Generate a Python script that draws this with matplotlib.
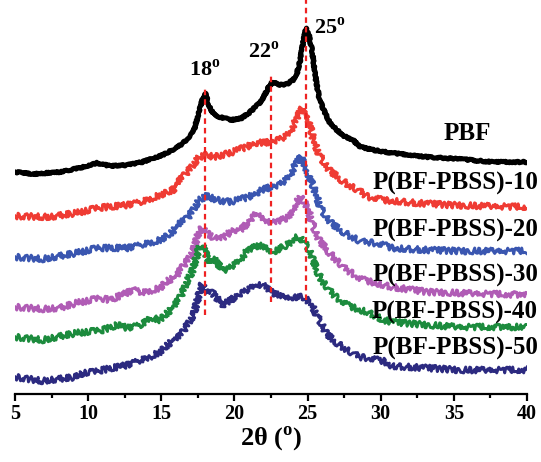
import matplotlib
matplotlib.use('Agg')
import matplotlib.pyplot as plt

plt.rcParams['font.family'] = ['Liberation Serif', 'DejaVu Serif']
plt.rcParams['mathtext.fontset'] = 'custom'
plt.rcParams['mathtext.rm'] = 'Liberation Serif'
plt.rcParams['mathtext.bf'] = 'Liberation Serif:bold'

# XRD patterns (stacked, intensity in a.u. including vertical offset)
pbf_x = [5.0, 6.2, 8.1, 9.4, 10.6, 11.5, 12.7, 13.7, 15.1, 16.0, 16.5, 17.0, 17.3, 17.6,
         17.85, 18.0, 18.3, 18.6, 19.0, 19.8, 20.5, 21.0, 21.5, 21.9, 22.3, 22.6, 23.1,
         23.6, 24.0, 24.3, 24.5, 24.7, 24.9, 25.1, 25.3, 25.6, 25.8, 26.1, 26.5, 27.0,
         27.5, 28.1, 28.6, 29.5, 30.8, 33.2, 35.4, 37.7, 40.0]
pbf_y = [222, 220, 222, 226, 231, 228, 229, 232, 239, 246, 251, 259, 267, 284,
         296, 301, 287, 280, 277, 274, 276, 281, 288, 294, 306, 312, 309,
         310, 314, 322, 334, 352, 366, 358, 344, 311, 296, 284, 272, 264,
         258, 254, 247, 244, 241, 237, 235, 232, 232]

p10_x = [5.0, 7.4, 9.2, 10.6, 12.7, 13.7, 14.9, 15.8, 16.1, 16.6, 17.0, 17.6, 18.1, 18.6,
         19.7, 20.6, 21.5, 22.6, 23.3, 23.8, 24.3, 24.6, 25.0, 25.4, 25.7, 26.0, 26.3,
         26.8, 27.2, 27.8, 28.6, 29.1, 30.2, 32.5, 34.7, 37.0, 40.0]
p10_y = [178, 177, 181, 186, 189, 192, 199, 204, 211, 219, 226, 237, 239, 237,
         241, 246, 251, 252, 256, 261, 277, 286, 279, 254, 243, 234, 227,
         220, 215, 209, 203, 197, 194, 191, 189, 188, 187]

p20_x = [5.0, 6.9, 8.5, 9.2, 10.6, 12.7, 13.7, 14.9, 15.6, 16.3, 16.8, 17.2, 17.6, 18.1,
         18.8, 19.7, 20.5, 21.3, 22.0, 23.1, 23.8, 24.3, 24.6, 25.0, 25.4, 25.9, 26.3,
         26.8, 27.2, 27.9, 28.6, 29.1, 30.2, 30.8, 33.2, 35.4, 40.0]
p20_y = [137, 135, 139, 141, 146, 146, 149, 154, 160, 171, 176, 185, 194, 198,
         194, 192, 195, 199, 205, 209, 218, 234, 237, 222, 207, 186, 176,
         169, 164, 158, 153, 152, 149, 146, 144, 143, 143]

p30_x = [5.0, 6.9, 8.1, 9.2, 10.8, 11.5, 13.1, 13.7, 14.9, 15.4, 16.1, 16.3, 16.8, 17.2,
         17.6, 17.9, 18.1, 18.5, 19.0, 19.9, 20.4, 21.0, 21.5, 21.8, 22.6, 23.6, 24.0,
         24.3, 24.5, 25.0, 25.3, 25.6, 26.0, 26.5, 27.1, 27.7, 28.6, 30.2, 30.8, 33.2,
         35.4, 40.0]
p30_y = [87, 85, 86, 91, 96, 94, 104, 101, 106, 113, 118, 124, 134, 144,
         164, 166, 161, 157, 154, 164, 164, 172, 181, 176, 171, 176, 185,
         194, 197, 187, 172, 159, 150, 141, 132, 124, 115, 109, 107, 102,
         101, 99]

p40_x = [5.0, 6.9, 9.2, 11.0, 12.0, 12.7, 13.7, 14.2, 14.9, 15.9, 16.3, 16.8, 17.1, 17.6,
         17.8, 18.3, 18.5, 19.2, 19.5, 20.4, 20.9, 21.7, 22.2, 22.6, 23.6, 24.3, 24.5,
         25.0, 25.4, 25.6, 26.0, 26.5, 27.0, 27.7, 28.6, 29.1, 30.2, 30.8, 33.2, 35.4,
         40.0]
p40_y = [57, 54, 61, 64, 69, 66, 69, 77, 74, 88, 97, 114, 122, 147,
         149, 131, 137, 124, 124, 134, 144, 149, 147, 142, 149, 157, 157,
         147, 134, 124, 113, 104, 96, 89, 84, 82, 74, 72, 69, 67,
         67]

p50_x = [5.0, 6.9, 7.4, 9.2, 9.6, 10.3, 12.0, 12.7, 13.7, 14.2, 14.9, 15.8, 16.3, 16.8,
         17.2, 17.6, 17.8, 18.1, 18.5, 19.2, 20.4, 21.6, 22.2, 22.6, 23.8, 24.7, 25.2,
         25.5, 25.8, 26.2, 26.7, 27.4, 27.7, 28.1, 28.6, 30.2, 30.8, 33.2, 35.4, 40.0]
p50_y = [17, 13, 14, 17, 21, 22, 27, 29, 34, 37, 42, 54, 58, 70,
         79, 101, 110, 101, 101, 89, 100, 110, 107, 101, 97, 97, 91,
         83, 74, 63, 54, 47, 44, 41, 37, 33, 28, 26, 24, 24]

curves = [
    (pbf_x, pbf_y, '#000000', 'PBF'),
    (p10_x, p10_y, '#ef3b33', 'P(BF-PBSS)-10'),
    (p20_x, p20_y, '#3a56b0', 'P(BF-PBSS)-20'),
    (p30_x, p30_y, '#b05cb5', 'P(BF-PBSS)-30'),
    (p40_x, p40_y, '#1c8b3d', 'P(BF-PBSS)-40'),
    (p50_x, p50_y, '#2c2a80', 'P(BF-PBSS)-50'),
]

# label anchors (x, y) for each pattern
label_x = [35.9, 40.75, 40.75, 40.75, 40.75, 40.75]
label_y = [261, 211, 164, 119, 82, 46]
label_ha = ['center', 'right', 'right', 'right', 'right', 'right']

# characteristic peaks: position, dashed-line span, label position
peak_pos = [18.0, 22.5, 24.9]
peak_low = [79, 92, 94]
peak_high = [306, 321, 394]
peak_text = ['18', '22', '25']
peak_text_x = [17.95, 22.0, 26.5]
peak_text_y = [324, 342, 366]

fig = plt.figure(figsize=(5.41, 4.62), dpi=100)
ax = fig.add_axes([15 / 541, 68 / 462, 512 / 541, 394 / 462])

for i, (x, y, c, name) in enumerate(curves):
    if i == 0:
        line, = ax.plot(x, y, color=c, lw=3.6, solid_joinstyle='round', zorder=2)
        line.set_sketch_params(scale=0.8, length=2, randomness=6)
    else:
        line, = ax.plot(x, y, color=c, lw=2.1, solid_joinstyle='round', zorder=2)
        line.set_sketch_params(scale=3.0, length=1.5, randomness=8)

for i, (x, y, c, name) in enumerate(curves):
    ax.text(label_x[i], label_y[i], name, ha=label_ha[i], va='center',
            fontsize=18, fontweight='bold', clip_on=False, zorder=4)

for p, lo, hi in zip(peak_pos, peak_low, peak_high):
    ax.plot([p, p], [lo, hi], color='#ee2222', lw=1.6, ls=(0, (2.5, 1.8)),
            zorder=3, clip_on=False)

for t, tx, ty in zip(peak_text, peak_text_x, peak_text_y):
    ax.text(tx, ty, t + r'$^{\mathbf{o}}$', ha='center', va='center',
            fontsize=16, fontweight='bold', zorder=4)

ax.set_xlim(5, 40)
ax.set_ylim(0, 394)
for s in ['left', 'right', 'top']:
    ax.spines[s].set_visible(False)
ax.spines['bottom'].set_linewidth(1.6)
ax.set_yticks([])
ax.set_xticks(range(5, 41, 5))
ax.set_xticks([7.5 + 5 * i for i in range(7)], minor=True)
ax.tick_params(axis='x', which='major', direction='out', length=5, width=1.6,
               labelsize=14.5, pad=2)
ax.tick_params(axis='x', which='minor', direction='out', length=3, width=1.6)
for lab in ax.get_xticklabels():
    lab.set_fontweight('bold')
ax.set_xlabel('2θ ($^{\\mathbf{o}}$)', fontsize=19, fontweight='bold', labelpad=0)

fig.savefig('out.png', dpi=100)
